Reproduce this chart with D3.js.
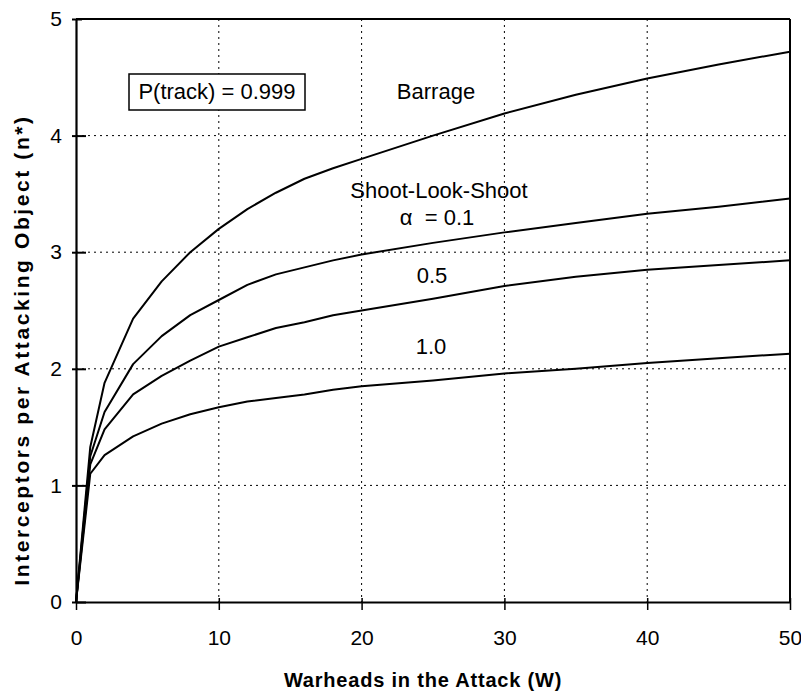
<!DOCTYPE html>
<html>
<head>
<meta charset="utf-8">
<script src="https://cdn.jsdelivr.net/npm/d3@7"></script>
<style>
  html, body { margin: 0; padding: 0; background: #fff; }
  svg { display: block; }
  text { font-family: "Liberation Sans", Arial, sans-serif; fill: #000; }
</style>
</head>
<body>
<svg id="chart" width="801" height="694"></svg>
<script>
// ---- data ----
const warheads   = [0, 1, 2, 4, 6, 8, 10, 12, 14, 16, 18, 20, 25, 30, 35, 40, 45, 50];
const barrage    = [0, 1.33, 1.88, 2.43, 2.75, 3.00, 3.20, 3.37, 3.51, 3.63, 3.72, 3.80, 4.00, 4.19, 4.35, 4.49, 4.61, 4.72];
const slsAlpha01 = [0, 1.25, 1.63, 2.04, 2.28, 2.46, 2.59, 2.72, 2.81, 2.87, 2.93, 2.98, 3.08, 3.17, 3.25, 3.33, 3.39, 3.46];
const slsAlpha05 = [0, 1.18, 1.48, 1.78, 1.94, 2.07, 2.19, 2.27, 2.35, 2.40, 2.46, 2.50, 2.60, 2.71, 2.79, 2.85, 2.89, 2.93];
const slsAlpha10 = [0, 1.10, 1.26, 1.42, 1.53, 1.61, 1.67, 1.72, 1.75, 1.78, 1.82, 1.85, 1.90, 1.96, 2.00, 2.05, 2.09, 2.13];
const seriesList = [barrage, slsAlpha01, slsAlpha05, slsAlpha10];
const xTicks = [0, 10, 20, 30, 40, 50];
const yTicks = [0, 1, 2, 3, 4, 5];
const xTitle = "Warheads in the Attack (W)";
const yTitle = "Interceptors per Attacking Object (n*)";
const boxLabel = "P(track) = 0.999";

// ---- layout ----
const svg = d3.select("#chart");
const L = 76, R = 790, T = 19, B = 602;
const x = d3.scaleLinear().domain([0, 50]).range([L, R]);
const y = d3.scaleLinear().domain([0, 5]).range([B, T]);

// grid
const grid = svg.append("g").attr("stroke", "#000").attr("stroke-width", 1).attr("stroke-dasharray", "2,4");
grid.selectAll("line.vx").data(xTicks.filter(d => d > 0 && d < 50)).enter().append("line")
  .attr("x1", d => x(d)).attr("x2", d => x(d)).attr("y1", T).attr("y2", B);
grid.selectAll("line.hy").data(yTicks.filter(d => d > 0 && d < 5)).enter().append("line")
  .attr("x1", L).attr("x2", R).attr("y1", d => y(d)).attr("y2", d => y(d));

// top & right border
svg.append("line").attr("x1", L).attr("x2", R).attr("y1", T).attr("y2", T).attr("stroke", "#000").attr("stroke-width", 2);
svg.append("line").attr("x1", R).attr("x2", R).attr("y1", T).attr("y2", B).attr("stroke", "#000").attr("stroke-width", 2);

// x axis
const xAxis = svg.append("g").attr("transform", `translate(0,${B})`)
  .call(d3.axisBottom(x).tickValues(xTicks).tickFormat(d3.format("d")).tickSizeInner(8).tickSizeOuter(0).tickPadding(20));
xAxis.select(".domain").attr("stroke", "#000").attr("stroke-width", 2.2);
xAxis.selectAll(".tick line").attr("stroke", "#000").attr("stroke-width", 1.5).attr("y1", -4);
xAxis.selectAll(".tick text").attr("font-size", 21).attr("font-family", "Liberation Sans, Arial, sans-serif").attr("fill", "#000");

// y axis
const yAxis = svg.append("g").attr("transform", `translate(${L},0)`)
  .call(d3.axisLeft(y).tickValues(yTicks).tickFormat(d3.format("d")).tickSizeInner(4).tickSizeOuter(0).tickPadding(10));
yAxis.select(".domain").attr("stroke", "#000").attr("stroke-width", 2.2);
yAxis.selectAll(".tick line").attr("stroke", "#000").attr("stroke-width", 2).attr("x2", -4).attr("x1", d => (d === 5 ? 6 : 10));
yAxis.selectAll(".tick text").attr("font-size", 21).attr("font-family", "Liberation Sans, Arial, sans-serif").attr("fill", "#000");

// lines
const line = d3.line().x((d, i) => x(warheads[i])).y(d => y(d));
svg.append("g").selectAll("path").data(seriesList).enter().append("path")
  .attr("d", d => line(d)).attr("fill", "none").attr("stroke", "#000").attr("stroke-width", 2).attr("stroke-linejoin", "round");

// annotation box
svg.append("rect").attr("x", 129).attr("y", 74).attr("width", 176).attr("height", 36)
  .attr("fill", "#fff").attr("stroke", "#000").attr("stroke-width", 1.5);
svg.append("text").attr("x", 217).attr("y", 99).attr("text-anchor", "middle").attr("font-size", 22).text(boxLabel);

// series labels
const ann = [
  {t: "Barrage", x: 436, y: 99},
  {t: "Shoot-Look-Shoot", x: 439, y: 198},
  {t: "α  = 0.1", x: 437, y: 225},
  {t: "0.5", x: 432, y: 283},
  {t: "1.0", x: 431, y: 354}
];
svg.append("g").selectAll("text").data(ann).enter().append("text")
  .attr("x", d => d.x).attr("y", d => d.y).attr("text-anchor", "middle").attr("font-size", 22)
  .style("white-space", "pre").text(d => d.t);

// axis titles
svg.append("text").attr("x", 423).attr("y", 687).attr("text-anchor", "middle")
  .attr("font-size", 20).attr("font-weight", "bold").attr("letter-spacing", 0.8).text(xTitle);
svg.append("text").attr("transform", "translate(29,350) rotate(-90)").attr("text-anchor", "middle")
  .attr("font-size", 21).attr("font-weight", "bold").attr("letter-spacing", 2.6).text(yTitle);
</script>
</body>
</html>
